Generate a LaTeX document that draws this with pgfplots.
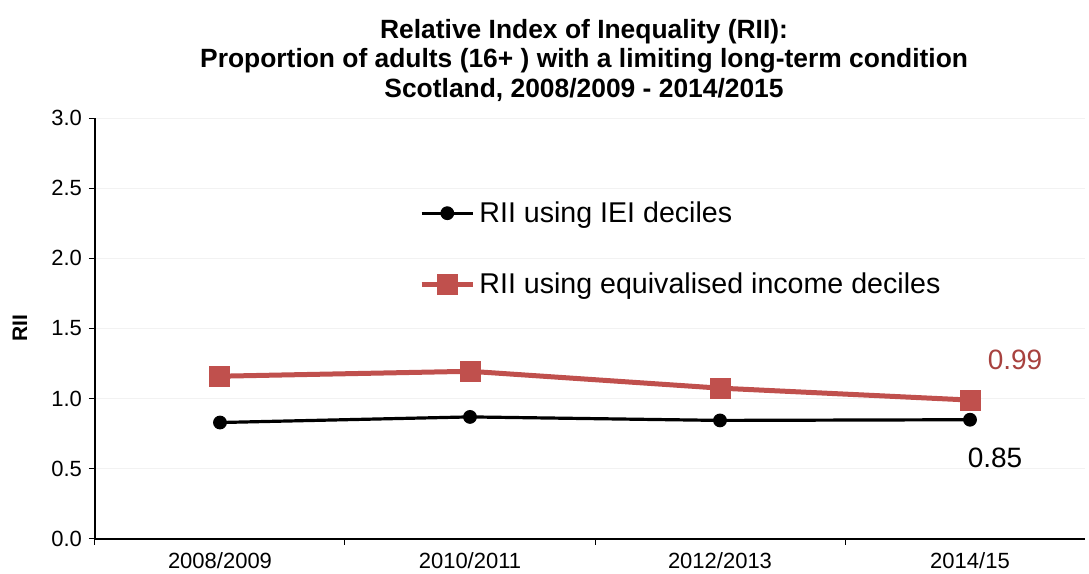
\documentclass[border=0pt]{standalone}
\usepackage{pgfplots}
\pgfplotsset{compat=1.18}
\usepackage{fontspec}
\setmainfont{Liberation Sans}
\definecolor{riired}{HTML}{C0504D}
\definecolor{lblred}{HTML}{A8423F}
\begin{document}
\begin{tikzpicture}
\begin{axis}[
    scale only axis,
    width=495pt, height=210.5pt,
    xmin=-0.5, xmax=3.46,
    ymin=0, ymax=3,
    axis x line*=bottom, axis y line*=left,
    axis line style={-, line width=0.6pt},
    xtick={0,1,2,3},
    xticklabels={2008/2009,2010/2011,2012/2013,2014/15},
    major x tick style={draw=none},
    minor xtick={-0.5,0.5,1.5,2.5},
    ytick={0,0.5,1,1.5,2,2.5,3},
    tick align=outside,
    major tick length=3pt, minor tick length=3pt,
    tick style={black, line width=0.5pt},
    ymajorgrids=true,
    grid style={color=gray!10, line width=0.5pt},
    yticklabel style={/pgf/number format/fixed, /pgf/number format/fixed zerofill, /pgf/number format/precision=1},
    /pgf/number format/assume math mode=true,
    tick label style={font=\fontsize{11}{12}\selectfont},
    ylabel={\textbf{RII}},
    ylabel style={at={(axis description cs:-0.0758,0.5)}, anchor=center, font=\fontsize{10.5}{12}\selectfont},
    legend style={draw=none, fill=none, at={(axis description cs:0.321,0.822)}, anchor=north west,
        font=\fontsize{14.3}{17}\selectfont, row sep=20pt},
    legend cell align=left,
    legend image code/.code={\draw[mark repeat=2,mark phase=2] plot coordinates {(0cm,0cm)(0.45cm,0cm)(0.9cm,0cm)};},
    clip=false,
]
\addplot[black, line width=1.6pt, mark=*, mark size=3.2pt, mark options={line width=0.5pt}]
    coordinates {(0,0.83)(1,0.87)(2,0.845)(3,0.85)};
\addplot[riired, line width=2.5pt, mark=square*, mark size=5pt, mark options={line width=0.5pt}]
    coordinates {(0,1.16)(1,1.195)(2,1.075)(3,0.99)};
\legend{RII using IEI deciles, RII using equivalised income deciles}
\node[text=lblred, font=\fontsize{14}{16}\selectfont] at (axis cs:3.18,1.276) {0.99};
\node[font=\fontsize{14}{16}\selectfont] at (axis cs:3.1,0.577) {0.85};
\node[align=center, font=\bfseries\fontsize{13.2}{14.9}\selectfont] at (axis description cs:0.494,1.137)
    {Relative Index of Inequality (RII):\\Proportion of adults (16+ ) with a limiting long-term condition\\Scotland, 2008/2009 - 2014/2015};
\end{axis}
\pgfresetboundingbox
\useasboundingbox (-47.5pt,-17.5pt) rectangle (497pt,269.5pt);
\end{tikzpicture}
\end{document}
